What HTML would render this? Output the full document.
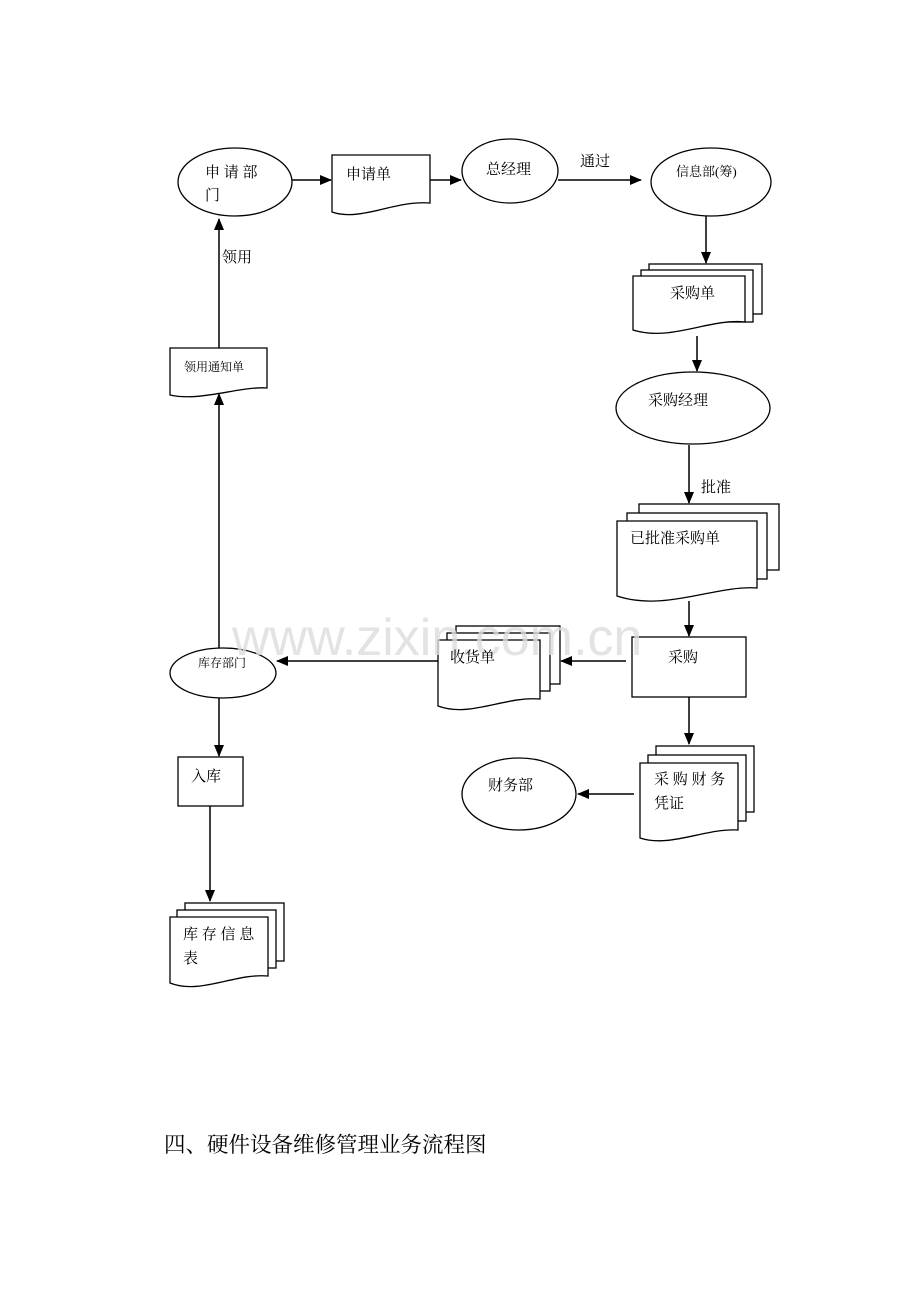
<!DOCTYPE html>
<html><head><meta charset="utf-8"><style>
html,body{margin:0;padding:0;background:#fff;width:920px;height:1302px;overflow:hidden}
svg{display:block}
text{font-family:"Liberation Serif","Noto Serif CJK SC","Noto Sans CJK SC",serif;fill:#000}
text.wm{font-family:"Liberation Sans",sans-serif;fill:#dcdcdc;fill-opacity:0.8}
</style></head><body>
<svg width="920" height="1302" viewBox="0 0 920 1302" xmlns="http://www.w3.org/2000/svg">
<defs><marker id="a" markerWidth="12" markerHeight="12" refX="11" refY="6" orient="auto" markerUnits="userSpaceOnUse"><path d="M0,1 L12,6 L0,11 Z" fill="#000"/></marker></defs>
<g fill="#fff" stroke="#000" stroke-width="1.3">
<ellipse cx="235" cy="182" rx="57" ry="34"/>
<path d="M332,155 H430 V203 C395,200 360,222 332,212 Z"/>
<ellipse cx="510" cy="171" rx="48" ry="32"/>
<ellipse cx="711" cy="182" rx="60" ry="34"/>
<rect x="649" y="264" width="113" height="50"/>
<rect x="641" y="270" width="112" height="52"/>
<path d="M633,276 H745 V322 C710,318 670,342 633,330 Z"/>
<ellipse cx="693" cy="408" rx="77" ry="36"/>
<rect x="639" y="504" width="140" height="66"/>
<rect x="627" y="513" width="140" height="66"/>
<path d="M617,521 H757 V588 C715,585 665,612 617,596 Z"/>
<rect x="632" y="637" width="114" height="60"/>
<rect x="456" y="626" width="104" height="58"/>
<rect x="447" y="633" width="103" height="58"/>
<path d="M438,640 H540 V699 C505,696 470,718 438,706 Z"/>
<ellipse cx="223" cy="673" rx="53" ry="25"/>
<path d="M170,348 H267 V388 C240,386 200,402 170,395 Z"/>
<rect x="178" y="757" width="65" height="49"/>
<rect x="185" y="903" width="99" height="58"/>
<rect x="177" y="910" width="99" height="58"/>
<path d="M170,917 H268 V976 C235,973 200,995 170,983 Z"/>
<rect x="656" y="746" width="98" height="66"/>
<rect x="648" y="755" width="98" height="66"/>
<path d="M640,763 H738 V830 C705,828 670,848 640,838 Z"/>
<ellipse cx="519" cy="794" rx="57" ry="36"/>
</g>
<text class="wm" x="232" y="655" font-size="52">www.zixin.com.cn</text>
<g stroke="#000" stroke-width="1.5" marker-end="url(#a)">
<line x1="292" y1="180" x2="331" y2="180"/>
<line x1="430" y1="180" x2="461" y2="180"/>
<line x1="558" y1="180" x2="641" y2="180"/>
<line x1="706" y1="216" x2="706" y2="263"/>
<line x1="697" y1="336" x2="697" y2="371"/>
<line x1="689" y1="445" x2="689" y2="503"/>
<line x1="689" y1="601" x2="689" y2="636"/>
<line x1="626" y1="661" x2="561" y2="661"/>
<line x1="438" y1="661" x2="277" y2="661"/>
<line x1="219" y1="648" x2="219" y2="394"/>
<line x1="219" y1="348" x2="219" y2="219"/>
<line x1="219" y1="698" x2="219" y2="756"/>
<line x1="210" y1="806" x2="210" y2="901"/>
<line x1="689" y1="697" x2="689" y2="744"/>
<line x1="634" y1="794" x2="578" y2="794"/>
</g>
<g font-size="15">
<text x="205" y="177">申 请 部</text><text x="205" y="200">门</text>
<text x="346" y="179">申请单</text>
<text x="486" y="174">总经理</text>
<text x="580" y="166">通过</text>
<text x="676" y="176" font-size="13">信息部(筹)</text>
<text x="670" y="298">采购单</text>
<text x="648" y="405">采购经理</text>
<text x="701" y="492">批准</text>
<text x="630" y="543">已批准采购单</text>
<text x="668" y="662">采购</text>
<text x="450" y="662">收货单</text>
<text x="198" y="667" font-size="12">库存部门</text>
<text x="184" y="371" font-size="12">领用通知单</text>
<text x="222" y="262">领用</text>
<text x="191" y="781">入库</text>
<text x="183" y="939">库 存 信 息</text><text x="183" y="963">表</text>
<text x="654" y="784">采 购 财 务</text><text x="654" y="808">凭证</text>
<text x="488" y="790">财务部</text>
</g>
<text x="164" y="1152" font-size="21.5">四、硬件设备维修管理业务流程图</text>
</svg>
</body></html>
